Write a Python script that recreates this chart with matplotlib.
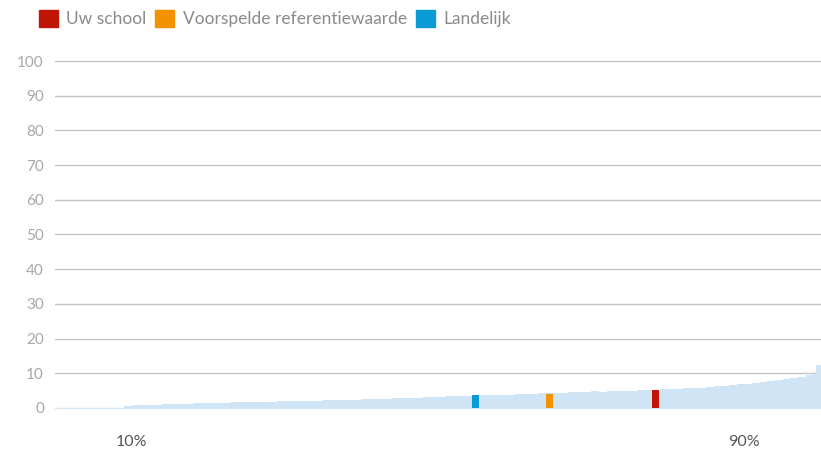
import matplotlib.pyplot as plt
from matplotlib.patches import Patch
import numpy as np

# sorted school scores per percentile (0..99) and the last narrow spike
verdeling = [0, 0, 0, 0, 0, 0, 0, 0, 0,
             0.7, 0.8, 0.9, 1.0,
             1.0, 1.1, 1.1, 1.2, 1.2, 1.3, 1.3, 1.4,
             1.5, 1.5, 1.6, 1.6, 1.7, 1.7, 1.8, 1.8, 1.9, 1.9,
             2.0, 2.0, 2.1, 2.1, 2.2, 2.2, 2.3, 2.4, 2.4, 2.5,
             2.6, 2.7, 2.7, 2.8, 2.9, 3.0, 3.0, 3.1, 3.2, 3.3,
             3.4, 3.4, 3.5, 3.5, 3.6, 3.6, 3.7, 3.8, 3.8, 3.9,
             4.0, 4.1, 4.2, 4.2, 4.3, 4.4, 4.5, 4.6, 4.7, 4.8,
             4.7, 4.8, 4.9, 5.0, 5.0, 5.1, 5.2, 5.3, 5.4, 5.5,
             5.6, 5.7, 5.8, 5.9, 6.0, 6.2, 6.4, 6.6, 6.8, 7.0,
             7.3, 7.5, 7.8, 8.1, 8.4, 8.7, 9.0, 9.4, 9.8]
piek = 12.5

labels = ['Uw school', 'Voorspelde referentiewaarde', 'Landelijk']
percentiel = [78.4, 64.6, 54.9]
waarde = [5.2, 4.0, 3.7]
kleuren = ['#c01605', '#f39200', '#0a9bd7']

xticks = [10, 90]
xticklabels = ['10%', '90%']
yticks = list(range(0, 101, 10))

plt.rcParams['font.family'] = ['Lato', 'DejaVu Sans']

fig = plt.figure(figsize=(8.21, 4.49), dpi=100)
ax = fig.add_axes([0.067, 0.0875, 0.933, 0.7805])

# distribution area
ax.bar(np.arange(len(verdeling)), verdeling, width=1, align='edge',
       color='#cfe4f4', linewidth=0, zorder=2)
ax.bar(99.7, piek, width=0.6, color='#cfe4f4', linewidth=0, zorder=2)

# school markers
for p, v, c in zip(percentiel, waarde, kleuren):
    ax.bar(p, v, width=0.9, color=c, linewidth=0, zorder=3)

# gridlines
for y in yticks[1:]:
    ax.axhline(y, color='#c4c4c4', linewidth=1, zorder=1)
ax.axhline(0, color='#d6e6f2', linewidth=1, zorder=1)

ax.set_xlim(0, 100)
ax.set_ylim(-0.5, 100.5)
ax.set_yticks(yticks)
ax.set_xticks(xticks)
ax.set_xticklabels(xticklabels)
ax.tick_params(axis='y', length=0, pad=8, labelsize=11, labelcolor='#a8a8a8')
ax.tick_params(axis='x', length=0, pad=18, labelsize=11.5, labelcolor='#555555')
for s in ax.spines.values():
    s.set_visible(False)

handles = [Patch(color=c) for c in kleuren]
leg = fig.legend(handles, labels, loc='upper left', bbox_to_anchor=(0.028, 1.012),
                 ncol=3, frameon=False, handlelength=1.1, handleheight=1.1,
                 handletextpad=0.5, columnspacing=0.5, fontsize=12.5)
for t in leg.get_texts():
    t.set_color('#8a8a8a')

fig.savefig('out.png', dpi=100)
